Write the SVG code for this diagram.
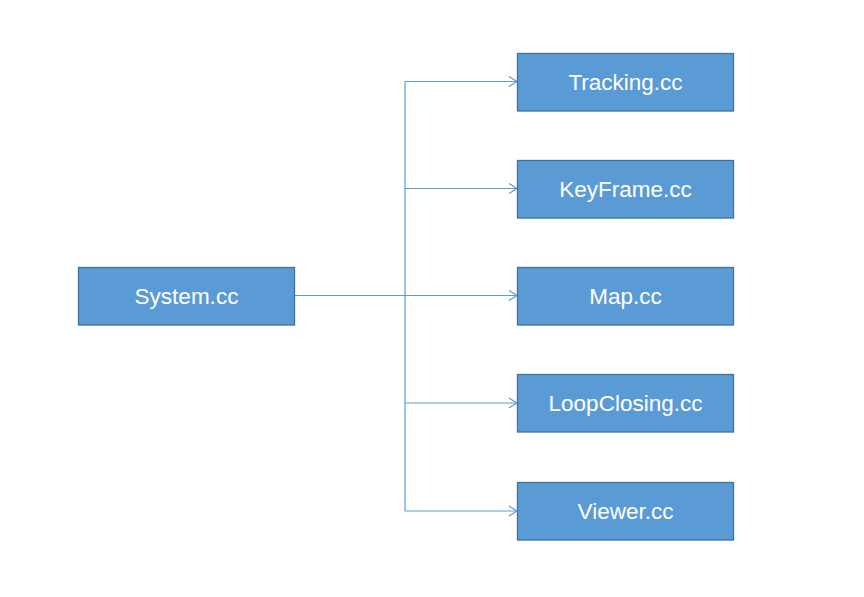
<svg xmlns="http://www.w3.org/2000/svg" width="864" height="597" viewBox="0 0 864 597">
<style>
.box{fill:#5B9BD5;stroke:#41719C;stroke-width:1.3}
.lbl{font-family:"Liberation Sans",Arial,sans-serif;font-size:22.5px;fill:#FFFFFF;text-anchor:middle}
.conn{fill:none;stroke:#5B9BD5;stroke-width:1.2}
</style>
<defs>
<marker id="arr" markerUnits="userSpaceOnUse" markerWidth="12" markerHeight="12" refX="10" refY="6" orient="auto">
<path d="M2,1 L10,6 L2,11" fill="none" stroke="#5B9BD5" stroke-width="1.2"/>
</marker>
</defs>
<rect width="864" height="597" fill="#FFFFFF"/>
<g id="connectors">
<path class="conn" d="M295,295.5 H405"/>
<path class="conn" d="M405,81.5 V511"/>
<path class="conn" marker-end="url(#arr)" d="M405,81.5 H517"/>
<path class="conn" marker-end="url(#arr)" d="M405,188.5 H517"/>
<path class="conn" marker-end="url(#arr)" d="M405,295.5 H517"/>
<path class="conn" marker-end="url(#arr)" d="M405,403 H517"/>
<path class="conn" marker-end="url(#arr)" d="M405,511 H517"/>
</g>
<g id="system"><rect class="box" x="78.5" y="267.5" width="216" height="57.5"/><text class="lbl" x="186.5" y="304">System.cc</text></g>
<g id="tracking"><rect class="box" x="517.5" y="53.5" width="216" height="57.5"/><text class="lbl" x="625.5" y="90">Tracking.cc</text></g>
<g id="keyframe"><rect class="box" x="517.5" y="160.5" width="216" height="57.5"/><text class="lbl" x="625.5" y="197">KeyFrame.cc</text></g>
<g id="map"><rect class="box" x="517.5" y="267.5" width="216" height="57.5"/><text class="lbl" x="625.5" y="304">Map.cc</text></g>
<g id="loopclosing"><rect class="box" x="517.5" y="374.5" width="216" height="57.5"/><text class="lbl" x="625.5" y="411">LoopClosing.cc</text></g>
<g id="viewer"><rect class="box" x="517.5" y="482.5" width="216" height="57.5"/><text class="lbl" x="625.5" y="519">Viewer.cc</text></g>
</svg>
